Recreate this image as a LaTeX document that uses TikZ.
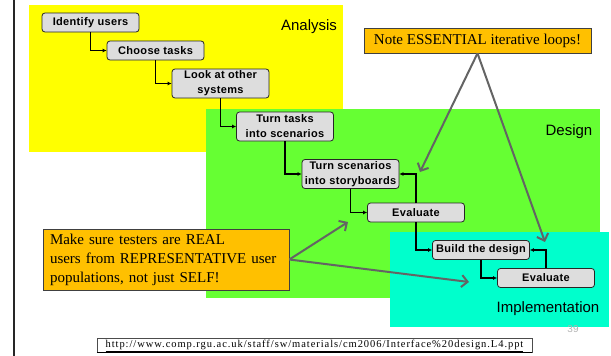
\documentclass[tikz,border=0pt]{standalone}
\usepackage{fontspec}
\setmainfont{Liberation Serif}
\setsansfont{Liberation Sans}
\usetikzlibrary{arrows.meta, positioning}
\definecolor{analysis}{RGB}{255,255,0}
\definecolor{design}{RGB}{102,255,51}
\definecolor{implement}{RGB}{0,255,204}
\definecolor{notefill}{RGB}{255,192,0}
\definecolor{arrowgray}{RGB}{100,100,100}
\definecolor{stepfill}{RGB}{221,221,221}

\begin{document}
\begin{tikzpicture}[x=1pt, y=-1pt,
  stepbox/.style={rectangle, rounded corners=3pt, draw=black!85, fill=stepfill, line width=0.8pt,
    minimum width=97pt, minimum height=19pt, inner sep=0pt, align=center,
    font=\sffamily\bfseries\fontsize{11}{15}\selectfont\addfontfeatures{LetterSpace=3}},
  tall/.style={minimum height=29pt},
  phase/.style={font=\sffamily\fontsize{15}{18}\selectfont},
  callout/.style={rectangle, draw=black!75, fill=notefill, line width=0.6pt,
    font=\fontsize{15}{19}\selectfont},
  flow/.style={-{Latex[length=4pt,width=4pt]}, line width=1.2pt},
  pointer/.style={-{Straight Barb[length=6pt,width=12pt]}, line width=2pt, arrowgray}
]
\useasboundingbox (0,0) rectangle (611,356);

% Phase regions
\fill[analysis] (29,5) rectangle (343,152);
\fill[design] (206,109) rectangle (600,298);
\fill[implement] (390,232) rectangle (609,327);
\draw[line width=2pt, black!85] (14,0) -- (14,356);

\node[phase] (lbana) at (309,27) {Analysis};
\node[phase] (lbdes) at (569,132) {Design};
\node[phase] (lbimp) at (548,309) {Implementation};
\node[font=\sffamily\fontsize{10}{12}\selectfont, text=black!30] (pagenum) at (573,329) {39};

% Steps
\node[stepbox] (ident) at (90.5,22.5) {Identify users};
\node[stepbox] (choose) at (155.5,50.5) {Choose tasks};
\node[stepbox, tall] (lookat) at (220.5,83.5) {Look at other\\systems};
\node[stepbox, tall] (scen) at (285,126.5) {Turn tasks\\into scenarios};
\node[stepbox, tall] (story) at (350.5,174) {Turn scenarios\\into storyboards};
\node[stepbox] (evdes) at (416,212.5) {Evaluate};
\node[stepbox] (build) at (481,250) {Build the design};
\node[stepbox] (evimp) at (546,278) {Evaluate};

% Forward steps
\foreach \a/\b in {ident/choose, choose/lookat, lookat/scen, scen/story, story/evdes, evdes/build, build/evimp}
  \draw[flow] (\a.south) |- (\b.west);

% Loops back
\draw[flow] (evdes.north) |- (story.east);
\draw[flow] (evimp.north) |- (build.east);

% Notes
\node[callout, minimum width=227pt, minimum height=25pt, inner sep=1pt] (noteloops) at (477.5,40.5)
  {Note ESSENTIAL iterative loops!};
\node[callout, minimum width=246pt, minimum height=61pt, inner xsep=7pt, inner ysep=2pt,
  text width=232pt, align=left] (notereal) at (166,259.5)
  {Make sure testers are REAL\\users from REPRESENTATIVE user\\populations, not just SELF!};

\coordinate (loopA) at (420,172);
\coordinate (loopB) at (545,242);
\coordinate (realA) at (348,222);
\coordinate (realB) at (469,282);

\draw[pointer] (noteloops.south) -- (loopA);
\draw[pointer] (noteloops.south) -- (loopB);
\draw[pointer] (notereal.east) -- (realA);
\draw[pointer] (notereal.east) -- (realB);

% Source
\node[draw=black!70, line width=0.5pt, minimum width=435pt, minimum height=13pt, inner sep=1pt,
  font=\fontsize{10.5}{12}\selectfont\addfontfeatures{LetterSpace=9}] (link) at (314.5,345.5)
  {\underline{http://www.comp.rgu.ac.uk/staff/sw/materials/cm2006/Interface\%20design.L4.ppt}};
\draw[line width=1.6pt] (link.south west) -- (link.south east);

\end{tikzpicture}
\end{document}
